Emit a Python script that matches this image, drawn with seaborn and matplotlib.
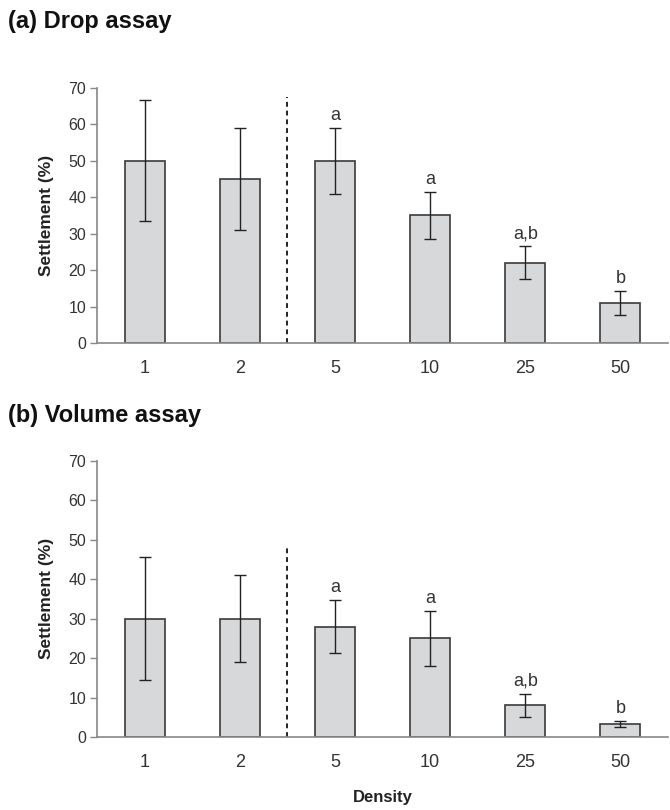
import matplotlib
matplotlib.use("Agg")
import matplotlib.pyplot as plt
import seaborn as sns
import pandas as pd
import numpy as np

# Settlement data by larval density
density = ["1", "2", "5", "10", "25", "50"]
drop_mean = [50, 45, 50, 35, 22, 11]
drop_err = [16.6, 14, 9, 6.5, 4.5, 3.3]
drop_letters = ["", "", "a", "a", "a,b", "b"]
volume_mean = [30, 30, 28, 25, 8, 3.2]
volume_err = [15.5, 11, 6.8, 7, 3, 0.75]
volume_letters = ["", "", "a", "a", "a,b", "b"]
yticks = [0, 10, 20, 30, 40, 50, 60, 70]

sns.set_theme(style="white")
plt.rcParams["font.family"] = ["Liberation Sans", "DejaVu Sans"]

fig = plt.figure(figsize=(6.7, 8.1), dpi=100)
ax_a = fig.add_axes([0.145, 0.5765, 0.852, 0.315])
ax_b = fig.add_axes([0.145, 0.0901, 0.852, 0.341])

bar_face = "#d6d8da"
edge = "#3a3a3a"
axis_col = "#888888"
text_col = "#333333"


def draw_panel(ax, means, errs, letters, dash_top, show_xlabel):
    df = pd.DataFrame({"Density": density, "Settlement": means})
    sns.barplot(data=df, x="Density", y="Settlement", ax=ax, order=density,
                color=bar_face, edgecolor=edge, linewidth=1.2, width=0.42,
                saturation=1, errorbar=None)
    xs = np.arange(len(density))
    ax.errorbar(xs, means, yerr=errs, fmt="none", ecolor="#222222",
                elinewidth=1.0, capsize=4, capthick=1.0)
    for x, m, e, lab in zip(xs, means, errs, letters):
        if lab:
            ax.text(x, m + e + 1.0, lab, ha="center", va="bottom",
                    fontsize=13, color=text_col)
    ax.plot([1.5, 1.5], [0, dash_top], ls=(0, (2.5, 2)), color="#222222",
            lw=1.4)
    ax.set_xlim(-0.5, 5.5)
    ax.set_ylim(0, 70)
    ax.set_yticks(yticks)
    ax.set_yticklabels([str(v) for v in yticks], fontsize=11.5, color=text_col)
    ax.set_xticks(xs)
    ax.set_xticklabels(density, fontsize=13, color=text_col)
    ax.set_xticks(np.arange(-0.5, 5.6, 1.0), minor=True)
    ax.tick_params(axis="x", which="major", length=0, pad=12)
    ax.tick_params(axis="x", which="minor", length=5, width=1,
                   color=axis_col, direction="out")
    ax.tick_params(axis="y", length=5, width=1, color=axis_col,
                   direction="out", pad=3, left=True)
    for s in ["top", "right"]:
        ax.spines[s].set_visible(False)
    for s in ["left", "bottom"]:
        ax.spines[s].set_color(axis_col)
        ax.spines[s].set_linewidth(1.2)
    ax.set_ylabel("Settlement (%)", fontsize=12.5, fontweight="bold",
                  color="#222222", labelpad=10)
    if show_xlabel:
        ax.set_xlabel("Density", fontsize=12, fontweight="bold",
                      color="#222222", labelpad=14)
    else:
        ax.set_xlabel("")
    ax.set_facecolor("white")


draw_panel(ax_a, drop_mean, drop_err, drop_letters, 67.5, False)
draw_panel(ax_b, volume_mean, volume_err, volume_letters, 48.5, True)

fig.text(0.012, 0.974, "(a) Drop assay", fontsize=17, fontweight="bold",
         color="#111111", va="center", ha="left")
fig.text(0.012, 0.487, "(b) Volume assay", fontsize=17, fontweight="bold",
         color="#111111", va="center", ha="left")

fig.savefig("out.png", dpi=100, facecolor="white")
